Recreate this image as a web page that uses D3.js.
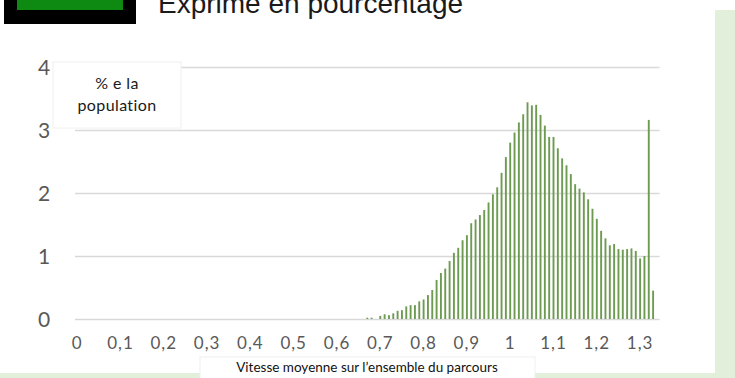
<!DOCTYPE html>
<html>
<head>
<meta charset="utf-8">
<script src="https://cdn.jsdelivr.net/npm/d3@7"></script>
<style>
  html, body { margin: 0; padding: 0; background: #ffffff; }
  svg { display: block; }
</style>
</head>
<body>
<svg id="chart" width="735" height="378"></svg>
<script>
// Speed classes, step of 0.01 from 0 to 1.34
const speedLabels = ["0","0,01","0,02","0,03","0,04","0,05","0,06","0,07","0,08","0,09",
  "0,1","0,11","0,12","0,13","0,14","0,15","0,16","0,17","0,18","0,19",
  "0,2","0,21","0,22","0,23","0,24","0,25","0,26","0,27","0,28","0,29",
  "0,3","0,31","0,32","0,33","0,34","0,35","0,36","0,37","0,38","0,39",
  "0,4","0,41","0,42","0,43","0,44","0,45","0,46","0,47","0,48","0,49",
  "0,5","0,51","0,52","0,53","0,54","0,55","0,56","0,57","0,58","0,59",
  "0,6","0,61","0,62","0,63","0,64","0,65","0,66","0,67","0,68","0,69",
  "0,7","0,71","0,72","0,73","0,74","0,75","0,76","0,77","0,78","0,79",
  "0,8","0,81","0,82","0,83","0,84","0,85","0,86","0,87","0,88","0,89",
  "0,9","0,91","0,92","0,93","0,94","0,95","0,96","0,97","0,98","0,99",
  "1","1,01","1,02","1,03","1,04","1,05","1,06","1,07","1,08","1,09",
  "1,1","1,11","1,12","1,13","1,14","1,15","1,16","1,17","1,18","1,19",
  "1,2","1,21","1,22","1,23","1,24","1,25","1,26","1,27","1,28","1,29",
  "1,3","1,31","1,32","1,33","1,34"];

// Share of the population (%) in each speed class
const populationShare = [
  0,0,0,0,0,0,0,0,0,0,
  0,0,0,0,0,0,0,0,0,0,
  0,0,0,0,0,0,0,0,0,0,
  0,0,0,0,0,0,0,0,0,0,
  0,0,0,0,0,0,0,0,0,0,
  0,0,0,0,0,0,0,0,0,0,
  0,0,0,0,0,0,0,0.02,0.02,0,
  0.05,0.075,0.06,0.09,0.13,0.14,0.20,0.22,0.22,0.28,
  0.31,0.38,0.46,0.62,0.73,0.80,0.92,1.05,1.13,1.25,
  1.33,1.52,1.58,1.65,1.73,1.85,1.98,2.09,2.32,2.57,
  2.80,2.96,3.12,3.25,3.44,3.39,3.40,3.24,3.07,2.89,
  2.89,2.71,2.55,2.44,2.30,2.14,2.07,2.01,1.90,1.75,
  1.59,1.40,1.28,1.17,1.19,1.11,1.10,1.11,1.12,1.08,
  0.96,1.00,3.16,0.45,0];

// Category axis labels (one every ten classes) and value axis ticks
const xTickLabels = ["0","0,1","0,2","0,3","0,4","0,5","0,6","0,7","0,8","0,9","1","1,1","1,2","1,3"];
const yTickValues = [0, 1, 2, 3, 4];

const svg = d3.select("#chart");

const plotLeft = 75, plotRight = 659.6, plotTop = 67, plotBottom = 319;

const x = d3.scaleBand().domain(speedLabels).range([plotLeft, plotRight]).padding(0);
const y = d3.scaleLinear().domain([0, 4]).range([plotBottom, plotTop]);

// Background panels
svg.append("rect").attr("x", 715).attr("y", 10).attr("width", 20).attr("height", 368).attr("fill", "#e2efda");
svg.append("rect").attr("x", 0).attr("y", 373).attr("width", 735).attr("height", 5).attr("fill", "#e2efda");

// Header: logo block and heading text
svg.append("rect").attr("x", 4).attr("y", -10).attr("width", 132).attr("height", 34).attr("fill", "#000000");
svg.append("rect").attr("x", 17).attr("y", -10).attr("width", 106).attr("height", 20).attr("fill", "#0e8a12");
svg.append("text").attr("x", 158).attr("y", 13)
  .attr("font-family", "'Liberation Sans', Arial, sans-serif").attr("font-size", 28)
  .attr("fill", "#1a1a1a").text("Exprimé en pourcentage");

// Horizontal gridlines and value axis labels
const yAxis = d3.axisLeft(y).tickValues(yTickValues).tickSize(-(plotRight - plotLeft)).tickPadding(22).tickFormat(d3.format("d"));
const gy = svg.append("g").attr("transform", `translate(${plotLeft},0)`).call(yAxis);
gy.select(".domain").remove();
gy.selectAll(".tick line").attr("stroke", "#d9d9d9").attr("stroke-width", 1.5);
gy.selectAll(".tick text")
  .attr("font-family", "Lato, 'Open Sans', sans-serif").attr("font-size", 21)
  .attr("fill", "#595959").attr("text-anchor", "middle").attr("x", -31).attr("dy", "0.35em");

// Bars
svg.append("g").selectAll("rect")
  .data(populationShare.map((v, i) => ({ k: speedLabels[i], v })))
  .join("rect")
  .attr("x", d => x(d.k) + x.bandwidth() / 2 - 0.95)
  .attr("width", 1.9)
  .attr("y", d => y(d.v))
  .attr("height", d => y(0) - y(d.v))
  .attr("fill", "#6e9b52");

// Category axis labels
const xAxis = d3.axisBottom(x).tickValues(xTickLabels).tickSize(0).tickPadding(0);
const gx = svg.append("g").attr("transform", `translate(0,${plotBottom})`).call(xAxis);
gx.select(".domain").remove();
gx.selectAll(".tick text")
  .attr("font-family", "Lato, 'Open Sans', sans-serif").attr("font-size", 17)
  .attr("letter-spacing", 1).attr("fill", "#595959").attr("y", 24).attr("dy", "0.35em");

// Value axis title box
svg.append("rect").attr("x", 53).attr("y", 62).attr("width", 128).attr("height", 66)
  .attr("fill", "#ffffff").attr("stroke", "#f0f0f0").attr("stroke-width", 1);
const yTitle = svg.append("text").attr("font-family", "Lato, 'Open Sans', sans-serif")
  .attr("font-size", 16).attr("letter-spacing", 0.4).attr("fill", "#1a1a1a").attr("text-anchor", "middle");
yTitle.append("tspan").attr("x", 117).attr("y", 89).text("% e la");
yTitle.append("tspan").attr("x", 117).attr("y", 111).text("population");

// Category axis title box
svg.append("rect").attr("x", 200).attr("y", 357).attr("width", 335).attr("height", 22)
  .attr("fill", "#ffffff").attr("stroke", "#f0f0f0").attr("stroke-width", 1);
svg.append("text").attr("x", 367).attr("y", 372).attr("text-anchor", "middle")
  .attr("font-family", "Lato, 'Open Sans', sans-serif").attr("font-size", 13.5)
  .attr("fill", "#111111").text("Vitesse moyenne sur l’ensemble du parcours");
</script>
</body>
</html>
